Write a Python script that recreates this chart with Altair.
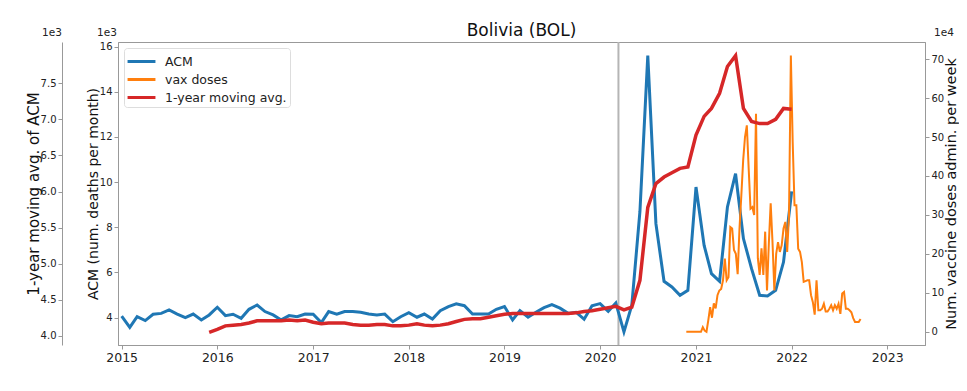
import altair as alt
import pandas as pd

FONT = "DejaVu Sans"

# ---- data (values in thousands for ACM, in 1e4 for vaccine doses) ----
acm_start, acm_end = "2015-01-01", "2022-01-01"
acm = [
    4.07, 3.57, 4.04, 3.87, 4.15, 4.19, 4.34, 4.16, 4.00, 4.16, 3.90, 4.12,
    4.46, 4.09, 4.15, 3.97, 4.37, 4.56, 4.27, 4.12, 3.90, 4.09, 4.04, 4.16,
    4.15, 3.78, 4.27, 4.15, 4.27, 4.27, 4.24, 4.16, 4.12, 4.16, 3.82, 4.04,
    4.22, 4.02, 4.16, 3.94, 4.31, 4.49, 4.61, 4.53, 4.16, 4.16, 4.16, 4.37,
    4.49, 3.90, 4.31, 4.02, 4.24, 4.44, 4.58, 4.42, 4.19, 4.24, 3.93, 4.53,
    4.62, 4.28, 4.65, 3.37, 4.55, 8.70, 15.60, 8.16, 5.61, 5.36, 4.99, 5.21,
    9.78, 7.20, 5.95, 5.61, 8.90, 10.37, 7.50, 6.17, 4.99, 4.96, 5.21, 6.46,
    9.59,
]
mavg_start = "2015-12-01"
mavg = [
    4.05,
    4.09, 4.14, 4.15, 4.16, 4.18, 4.21, 4.21, 4.21, 4.21, 4.22, 4.21, 4.22,
    4.19, 4.17, 4.18, 4.18, 4.18, 4.16, 4.15, 4.15, 4.16, 4.16, 4.14, 4.14,
    4.15, 4.17, 4.15, 4.14, 4.15, 4.17, 4.20, 4.23, 4.24, 4.24, 4.26, 4.28,
    4.30, 4.31, 4.31, 4.31, 4.31, 4.31, 4.31, 4.31, 4.31, 4.32, 4.34, 4.35,
    4.37, 4.39, 4.41, 4.36, 4.40, 4.77, 5.78, 6.11, 6.20, 6.26, 6.32, 6.34,
    6.78, 7.04, 7.15, 7.36, 7.73, 7.88, 7.15, 6.97, 6.94, 6.94, 7.00, 7.15,
    7.14,
]
vax_start = "2020-11-25"
vax = [
    0, 0, 0, 0, 0, 0, 0, 0, 0, 1.2, 0.3, 0, 3.0, 6.3, 3.6, 7.3, 6.0, 9.4, 10.6, 11.0,
    13.2, 18.8, 13.2, 14.0, 26.9, 26.5, 21.0, 20.0, 14.8, 26.5, 35.0, 44.0, 50.0, 53.0,
    42.0, 31.6, 32.0, 30.0, 56.0, 18.9, 14.6, 21.4, 14.6, 25.7, 10.6, 22.7, 33.0, 23.0,
    10.6, 20.0, 23.0, 20.5, 22.2, 26.5, 28.2, 20.5, 30.0, 70.9, 48.8, 32.5, 32.5, 21.3,
    20.5, 17.9, 12.8, 13.0, 13.2, 13.2, 9.4, 7.6, 4.4, 13.2, 5.5, 5.5, 5.9, 7.2, 5.2,
    5.2, 5.9, 6.8, 5.5, 6.8, 5.9, 7.2, 4.6, 9.8, 10.2, 5.9, 5.9, 5.5, 5.0, 3.5, 2.5,
    2.5, 2.5, 3.3,
]
series_names = ["ACM", "vax doses", "1-year moving avg."]
series_colors = ["#1f77b4", "#ff7f0e", "#d62728"]
year_ticks = [2015, 2016, 2017, 2018, 2019, 2020, 2021, 2022, 2023]
acm_ticks = [4, 6, 8, 10, 12, 14, 16]
mavg_ticks = [4.0, 4.5, 5.0, 5.5, 6.0, 6.5, 7.0, 7.5]
vax_ticks = [0, 10, 20, 30, 40, 50, 60, 70]
pandemic_date = "2020-03-11"

df_acm = pd.DataFrame({"date": pd.date_range(acm_start, acm_end, freq="MS"),
                       "value": acm, "series": series_names[0]})
df_mavg = pd.DataFrame({"date": pd.date_range(mavg_start, periods=len(mavg), freq="MS"),
                        "value": mavg, "series": series_names[2]})
df_vax = pd.DataFrame({"date": pd.date_range(vax_start, periods=len(vax), freq="7D"),
                       "value": vax, "series": series_names[1]})

W, H = 807, 303

xenc = alt.X(
    "date:T",
    title=None,
    scale=alt.Scale(domain=[alt.DateTime(year=2014, month=12, date=18),
                            alt.DateTime(year=2023, month=5, date=25)]),
    axis=alt.Axis(values=[alt.DateTime(year=y, month=1, date=1) for y in year_ticks],
                  format="%Y", grid=False, tickSize=4, labelPadding=2,
                  labelFontSize=12.5, labelFont=FONT, labelColor="#222",
                  domainColor="#999", tickColor="#999"),
)

color = alt.Color(
    "series:N",
    scale=alt.Scale(domain=series_names, range=series_colors),
    legend=alt.Legend(title=None, orient="top-left", offset=6, values=series_names,
                      symbolType="M-1.55,0L1.55,0", symbolStrokeWidth=3, symbolSize=324,
                      symbolOffset=4,
                      labelFontSize=12.5, labelFont=FONT, labelColor="#222",
                      fillColor="white", strokeColor="#dddddd", cornerRadius=3,
                      padding=3, rowPadding=1, labelOffset=13),
)

common_axis = dict(grid=False, labelFontSize=10, labelFont=FONT, labelColor="#222",
                   titleFont=FONT, titleFontWeight="normal", titleBaseline="middle",
                   titleColor="#111", tickSize=4, domainColor="#999", tickColor="#999")

acm_line = alt.Chart(df_acm).mark_line(strokeWidth=3).encode(
    x=xenc,
    y=alt.Y("value:Q", scale=alt.Scale(domain=[2.79, 16.2], nice=False, zero=False),
            axis=alt.Axis(orient="left", values=acm_ticks, format="d",
                          title="ACM (num. deaths per month)", labelPadding=2,
                          titleFontSize=14, titleX=-25, **common_axis)),
    color=color,
)

vax_line = alt.Chart(df_vax).mark_line(strokeWidth=2).encode(
    x=xenc,
    y=alt.Y("value:Q", scale=alt.Scale(domain=[-3.4, 74.4], nice=False, zero=False),
            axis=alt.Axis(orient="right", values=vax_ticks, format="d",
                          title="Num. vaccine doses admin. per week", labelPadding=2,
                          titleFontSize=14.5, titleAngle=270, titleX=26, **common_axis)),
    color=color,
)

mavg_line = alt.Chart(df_mavg).mark_line(strokeWidth=3.5).encode(
    x=xenc,
    y=alt.Y("value:Q", scale=alt.Scale(domain=[3.875, 8.07], nice=False, zero=False),
            axis=alt.Axis(orient="left", values=mavg_ticks, format=".1f", offset=56,
                          title="1-year moving avg. of ACM", labelPadding=2,
                          titleFontSize=15, titleX=-29, **common_axis)),
    color=color,
)

vline = alt.Chart(pd.DataFrame({"date": [pandemic_date]})).mark_rule(
    color="#b5b5b5", strokeWidth=2).encode(x=alt.X("date:T"))

def exp_label(txt, dx):
    return alt.Chart(pd.DataFrame({"t": [txt]})).mark_text(
        font=FONT, fontSize=10.5, color="#222", baseline="middle", align="center"
    ).encode(x=alt.value(dx), y=alt.value(-9), text="t:N")

chart = alt.layer(
    vline, acm_line, vax_line, mavg_line,
    exp_label("1e3", -66), exp_label("1e3", -11), exp_label("1e4", 826),
).resolve_scale(y="independent", color="shared").properties(
    width=W, height=H,
    title=alt.TitleParams("Bolivia (BOL)", font=FONT, fontSize=17, fontWeight="normal",
                          color="#111", offset=4, dy=16),
    autosize=alt.AutoSizeParams(type="none"),
    padding={"left": 110, "top": 34, "right": 34, "bottom": 30},
).configure_view(stroke="#999", strokeWidth=1)

chart.save("out.html", embed_options={"renderer": "svg", "actions": False})
